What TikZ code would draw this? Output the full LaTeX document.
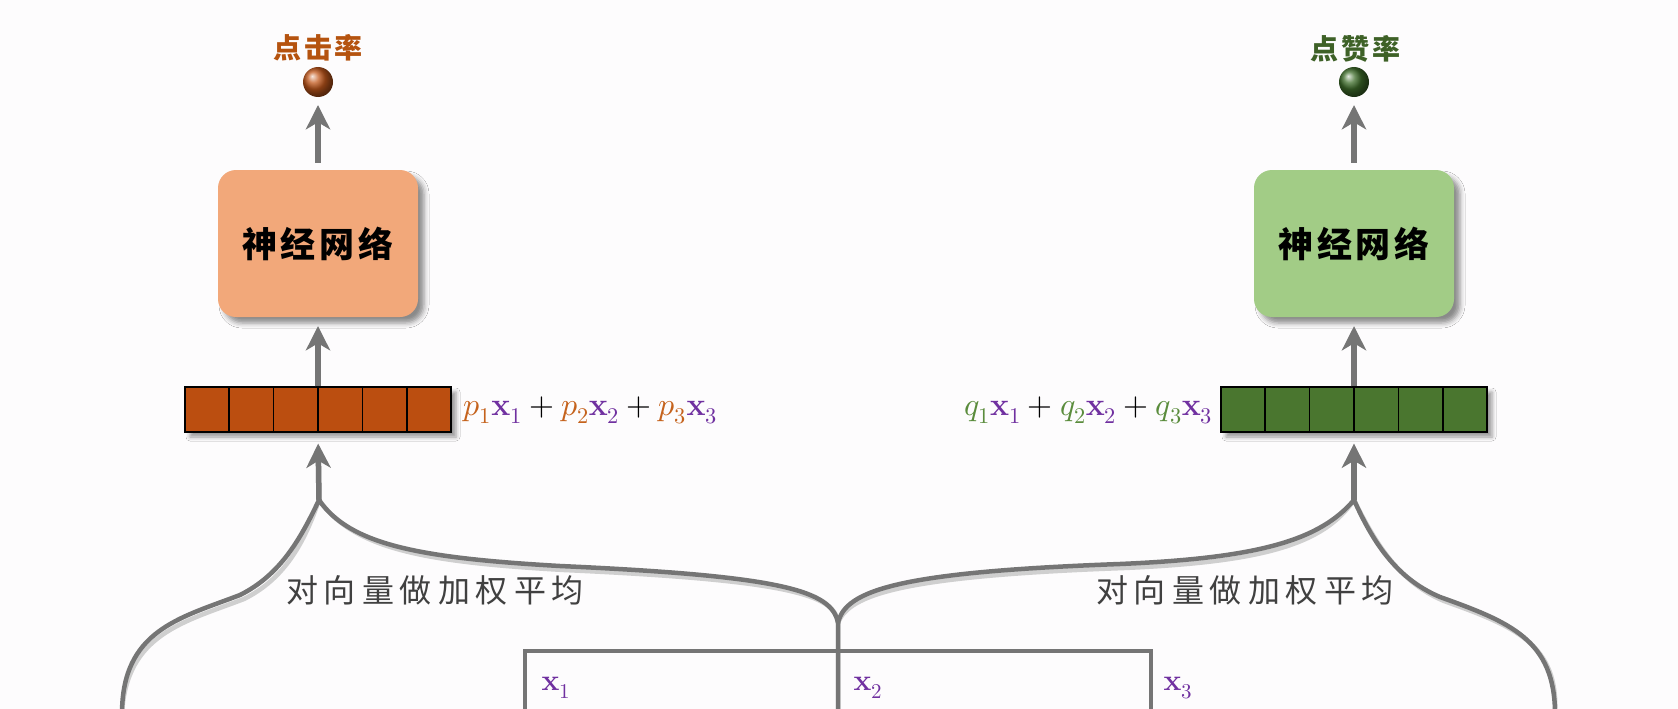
\documentclass[tikz,border=0pt]{standalone}
\usepackage{fontspec}
\usepackage{unicode-math}
\setmathfont{Latin Modern Math}
\newfontfamily\cjk{Noto Sans CJK SC}
\usetikzlibrary{arrows.meta,shadows.blur,calc}
\definecolor{boxor}{HTML}{F2A87A}
\definecolor{boxgr}{HTML}{A2CC86}
\definecolor{baror}{HTML}{BB4E10}
\definecolor{bargr}{HTML}{4A762F}
\definecolor{lab1}{HTML}{B5530F}
\definecolor{lab2}{HTML}{3E6127}
\definecolor{pcol}{HTML}{C5621C}
\definecolor{qcol}{HTML}{5A8C3C}
\definecolor{xcol}{HTML}{7030A0}
\definecolor{lgray}{HTML}{757575}
\definecolor{sgray}{HTML}{CFCFCF}
\definecolor{tgray}{HTML}{404040}
\definecolor{bg}{HTML}{FDFCFD}
\definecolor{sph1}{HTML}{C2581C}
\definecolor{sph2}{HTML}{3F6E2B}
\newcommand\mybraces[1]{%
  \draw[#1] (e1) .. controls (122,630) and (180,618) .. (240,595)
     .. controls (280,575) and (300,540) .. (t1)
     .. controls (350,545) and (420,558) .. (560,566)
     .. controls (780,576) and (832,590) .. (j) -- (jb);
  \draw[#1] (j) .. controls (845,590) and (900,572) .. (1120,564)
     .. controls (1260,558) and (1320,540) .. (t2)
     .. controls (1372,540) and (1395,578) .. (1440,597)
     .. controls (1510,622) and (1555,640) .. (e2);
  \draw[#1, miter limit=10] (f1) -- (f1t) -- (f3t) -- (f3);
}
\newcommand\myarrows[1]{%
  \draw[#1, shorten <=7pt, shorten >=8pt] (nn1.north) -- (o1.south);
  \draw[#1, shorten >=9pt] (bar1.north) -- (nn1.south);
  \draw[#1, shorten >=11pt] (t1) -- (bar1.south);
  \draw[#1, shorten <=7pt, shorten >=8pt] (nn2.north) -- (o2.south);
  \draw[#1, shorten >=9pt] (bar2.north) -- (nn2.south);
  \draw[#1, shorten >=11pt] (t2) -- (bar2.south);
}
\begin{document}
\begin{tikzpicture}[x=1pt,y=-1pt,
  gl/.style={draw=lgray, line width=4.5pt},
  gls/.style={draw=sgray, line width=4.5pt},
  arr/.style={draw=lgray, line width=5.5pt, -{Stealth[length=24pt,width=24pt,inset=7pt]}},
  arrs/.style={draw=sgray, line width=5.5pt, -{Stealth[length=24pt,width=24pt,inset=7pt]}},
  nnbox/.style={rectangle, rounded corners=18pt, minimum width=200pt, minimum height=147pt, inner sep=0pt,
    blur shadow={shadow xshift=6pt, shadow yshift=-6pt, shadow blur radius=5pt, shadow opacity=45},
    font=\cjk\bfseries\fontsize{35}{40}\selectfont},
  vbar/.style={rectangle, draw=black, line width=1.3pt, minimum width=266pt, minimum height=45pt, inner sep=0pt,
    blur shadow={shadow xshift=5pt, shadow yshift=-5pt, shadow blur radius=4pt, shadow opacity=40}},
  sph/.style={circle, minimum size=30pt, inner sep=0pt, shading=ball},
  rate/.style={font=\cjk\bfseries\fontsize{28}{32}\selectfont},
  wavg/.style={text=tgray, font=\cjk\fontsize{32}{38}\selectfont},
  xlab/.style={text=xcol, font=\fontsize{30}{36}\selectfont},
  formula/.style={font=\fontsize{32}{38}\selectfont}
]
\fill[bg] (0,0) rectangle (1678,709);
\useasboundingbox (0,0) rectangle (1678,709);

% coordinates of the braces and frame
\coordinate (t1) at (319,500);
\coordinate (t2) at (1354,500);
\coordinate (j) at (838,623);
\coordinate (jb) at (838,714);
\coordinate (e1) at (122,714);
\coordinate (e2) at (1555,714);
\coordinate (f1) at (525,714);
\coordinate (f1t) at (525,651);
\coordinate (f3t) at (1151,651);
\coordinate (f3) at (1151,714);

% nodes
\node[sph, ball color=sph1] (o1) at (318,82) {};
\node[sph, ball color=sph2] (o2) at (1354,82) {};
\node[rate, text=lab1] (r1) at (318,48) {点\kern3pt 击\kern3pt 率};
\node[rate, text=lab2] (r2) at (1355,49) {点\kern3pt 赞\kern3pt 率};
\node[nnbox, fill=boxor] (nn1) at (318,243.5) {神\kern4pt 经\kern4pt 网\kern4pt 络};
\node[nnbox, fill=boxgr] (nn2) at (1354,243.5) {神\kern4pt 经\kern4pt 网\kern4pt 络};
\node[vbar, fill=baror] (bar1) at (318,409.5) {};
\node[vbar, fill=bargr] (bar2) at (1354,409.5) {};
\foreach \b in {bar1,bar2}{
  \foreach \i in {1,...,5}{
    \draw[line width=1.3pt] ($(\b.north west)!\i/6!(\b.north east)$) -- ($(\b.south west)!\i/6!(\b.south east)$);
  }
}
\node[formula, anchor=west] (f1lab) at (460,410)
  {${\color{pcol}p_1}{\color{xcol}\mathbf{x}_1}+{\color{pcol}p_2}{\color{xcol}\mathbf{x}_2}+{\color{pcol}p_3}{\color{xcol}\mathbf{x}_3}$};
\node[formula, anchor=east] (f2lab) at (1216,410)
  {${\color{qcol}q_1}{\color{xcol}\mathbf{x}_1}+{\color{qcol}q_2}{\color{xcol}\mathbf{x}_2}+{\color{qcol}q_3}{\color{xcol}\mathbf{x}_3}$};

% shadows of lines and arrows
\begin{scope}[shift={(4,4)}]
  \mybraces{gls}
  \myarrows{arrs}
\end{scope}
\mybraces{gl}
\myarrows{arr}

\node[wavg] (w1) at (435,590) {对\kern6pt 向\kern6pt 量\kern6pt 做\kern6pt 加\kern6pt 权\kern6pt 平\kern6pt 均};
\node[wavg] (w2) at (1245,590) {对\kern6pt 向\kern6pt 量\kern6pt 做\kern6pt 加\kern6pt 权\kern6pt 平\kern6pt 均};

\node[xlab] (x1) at (556,688) {$\mathbf{x}_1$};
\node[xlab] (x2) at (868,688) {$\mathbf{x}_2$};
\node[xlab] (x3) at (1178,688) {$\mathbf{x}_3$};
\end{tikzpicture}
\end{document}
